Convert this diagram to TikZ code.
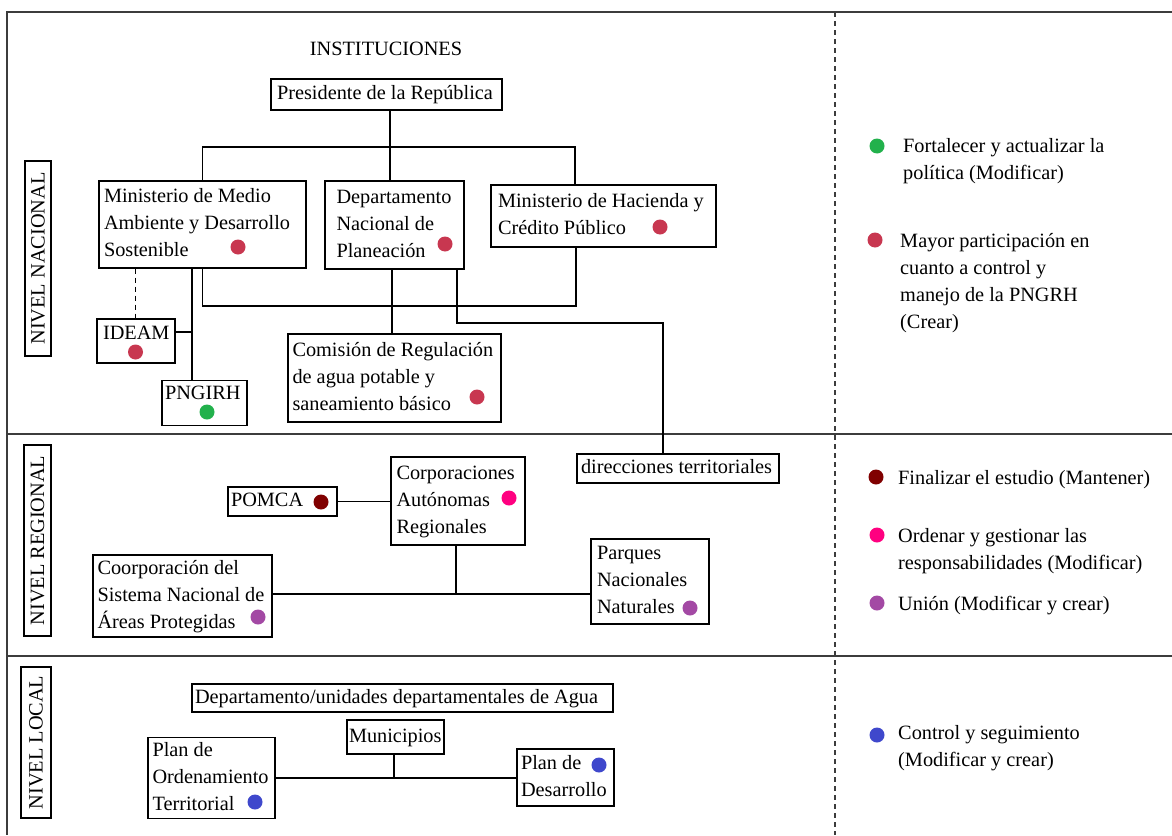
\documentclass[tikz,border=0pt]{standalone}
\usepackage{fontspec}
\setmainfont{Liberation Serif}
\newcommand\dfont{\fontsize{20.3}{27}\selectfont}
\definecolor{cgreen}{RGB}{34,177,76}
\definecolor{cred}{RGB}{200,55,80}
\definecolor{cdred}{RGB}{128,0,0}
\definecolor{cpink}{RGB}{255,0,128}
\definecolor{cpurple}{RGB}{163,73,164}
\definecolor{cblue}{RGB}{63,72,204}
\definecolor{frame}{RGB}{60,60,60}
\begin{document}
\begin{tikzpicture}[x=1pt,y=-1pt,
  box/.style={draw=black, line width=1.1pt, fill=white, inner xsep=2pt, inner ysep=0pt,
    align=flush left, font=\dfont,
    execute at begin node={\spaceskip=0pt\xspaceskip=0pt\hyphenpenalty=10000\leavevmode\strut},
    execute at end node=\strut},
  lvl/.style={draw=black, line width=1.1pt, rotate=90, font=\dfont, inner sep=0pt},
  conn/.style={line width=1.1pt, draw=black},
  dot/.style={circle, fill=#1, draw=none, inner sep=0pt, minimum size=15pt},
  legend/.style={font=\dfont, align=left, inner sep=0pt, anchor=north west},
  frameline/.style={line width=1.5pt, draw=frame}]
\useasboundingbox (0,0) rectangle (1172,835);
\fill[white] (0,0) rectangle (1172,835);

% frame and separators
\draw[frameline] (1172,12) -- (7,12) -- (7,835);
\draw[frameline] (7,434) -- (1172,434);
\draw[frameline] (7,656) -- (1172,656);
\draw[line width=1.2pt, draw=frame, dash pattern=on 5pt off 4pt] (835,12) -- (835,835);

% level labels
\node[lvl, minimum width=195pt, minimum height=26pt] (nn) at (38,258.5) {NIVEL NACIONAL};
\node[lvl, minimum width=191pt, minimum height=27pt] (nr) at (37.5,540.5) {NIVEL REGIONAL};
\node[lvl, minimum width=151pt, minimum height=30pt] (nl) at (36,742.5) {NIVEL LOCAL};

\node[font=\dfont, inner sep=0pt] (inst) at (386,49) {INSTITUCIONES};

% national boxes
\node[box, minimum width=231pt, minimum height=31pt, text width=219pt] (pres) at (386.5,94.5) {Presidente de la República};
\node[box, minimum width=207pt, minimum height=87pt, text width=197pt] (mma) at (202.5,224.5) {Ministerio de Medio\\Ambiente y Desarrollo\\Sostenible};
\node[box, minimum width=139pt, minimum height=88pt, text width=116pt] (dnp) at (394.5,225) {Departamento\\Nacional de\\Planeación};
\node[box, minimum width=225pt, minimum height=62pt, text width=211pt] (hac) at (603.5,216) {Ministerio de Hacienda y\\Crédito Público};
\node[box, minimum width=213pt, minimum height=88pt, text width=204pt] (com) at (394.5,378) {Comisión de Regulación\\de agua potable y\\saneamiento básico};
\node[box, minimum width=202pt, minimum height=29pt, text width=194pt] (dir) at (678,468.5) {direcciones territoriales};
\node[box, minimum width=78pt, minimum height=44pt, text width=66pt, text depth=21.5pt] (ideam) at (136,341) {IDEAM};
\node[box, minimum width=85pt, minimum height=44pt, text width=79pt, text depth=25.5pt] (png) at (204.5,403) {PNGIRH};

% regional boxes
\node[box, minimum width=109pt, minimum height=29pt, text width=103pt] (pomca) at (282.5,501.5) {POMCA};
\node[box, minimum width=134pt, minimum height=88pt, text width=123pt] (corp) at (458,501) {Corporaciones\\Autónomas\\Regionales};
\node[box, minimum width=179pt, minimum height=82pt, text width=170pt] (coorp) at (182.5,596) {Coorporación del\\Sistema Nacional de\\Áreas Protegidas};
\node[box, minimum width=118pt, minimum height=85pt, text width=106pt] (parq) at (650,581.5) {Parques\\Nacionales\\Naturales};

% local boxes
\node[box, minimum width=421pt, minimum height=28pt, text width=415pt] (dep) at (402.5,698) {Departamento/unidades departamentales de Agua};
\node[box, minimum width=97pt, minimum height=34pt, text width=93pt] (mun) at (395.5,737) {Municipios};
\node[box, minimum width=127pt, minimum height=80pt, text width=118pt] (pord) at (211.5,778) {Plan de\\Ordenamiento\\Territorial};
\node[box, minimum width=97pt, minimum height=57pt, text width=89pt] (pdes) at (565.5,777.5) {Plan de\\Desarrollo};

% junction coordinates
\coordinate (jtop) at (390,147);
\coordinate (jr) at (575,147);
\coordinate (jb) at (576,306);
\coordinate (jc) at (392,0);
\coordinate (jd) at (457,323);
\coordinate (je) at (663,323);
\coordinate (jf) at (135.5,0);
\coordinate (jg) at (192,332);
\coordinate (jh) at (456,594);
\coordinate (ji) at (394,778);

% connectors
\draw[conn] (pres.south -| jtop) -- (dnp.north -| jtop);
\draw[conn] (mma.north) |- (jr) -- (hac.north -| jr);
\draw[conn] (mma.south) |- (jb) -- (hac.south -| jb);
\draw[conn] (dnp.south -| jc) -- (com.north -| jc);
\draw[conn] (dnp.south -| jd) -- (jd) -- (je) -- (dir.north -| je);
\draw[conn, dash pattern=on 5pt off 4pt] (mma.south -| jf) -- (ideam.north -| jf);
\draw[conn] (mma.south -| jg) -- (png.north -| jg);
\draw[conn] (ideam.east |- jg) -- (jg);
\draw[conn] (pomca.east) -- (corp.west |- pomca.east);
\draw[conn] (corp.south -| jh) -- (jh);
\draw[conn] (coorp.east |- jh) -- (parq.west |- jh);
\draw[conn] (mun.south -| ji) -- (ji);
\draw[conn] (pord.east |- ji) -- (pdes.west |- ji);

% dots in boxes
\node[dot=cred] (dmma) at (238,247) {};
\node[dot=cred] (ddnp) at (445,244) {};
\node[dot=cred] (dhac) at (660,227) {};
\node[dot=cred] (dideam) at (135.5,352) {};
\node[dot=cgreen] (dpng) at (207,412) {};
\node[dot=cred] (dcom) at (477,397) {};
\node[dot=cdred] (dpomca) at (321,502) {};
\node[dot=cpink] (dcorp) at (509,498) {};
\node[dot=cpurple] (dcoorp) at (258,617) {};
\node[dot=cpurple] (dparq) at (690,608) {};
\node[dot=cblue] (dpord) at (255,802) {};
\node[dot=cblue] (dpdes) at (599,765) {};

% legend
\node[dot=cgreen] (lg1) at (877,146) {};
\node[legend] (lt1) at (903,137.8) {Fortalecer y actualizar la\\política (Modificar)};
\node[dot=cred] (lg2) at (875,240) {};
\node[legend] (lt2) at (900,232.8) {Mayor participación en\\cuanto a control y\\manejo de la PNGRH\\(Crear)};
\node[dot=cdred] (lg3) at (876,477) {};
\node[legend] (lt3) at (898,469.8) {Finalizar el estudio (Mantener)};
\node[dot=cpink] (lg4) at (877,535) {};
\node[legend] (lt4) at (898,527.8) {Ordenar y gestionar las\\responsabilidades (Modificar)};
\node[dot=cpurple] (lg5) at (877,603) {};
\node[legend] (lt5) at (898,595.8) {Unión (Modificar y crear)};
\node[dot=cblue] (lg6) at (877,735) {};
\node[legend] (lt6) at (898,724.8) {Control y seguimiento\\(Modificar y crear)};
\end{tikzpicture}
\end{document}
